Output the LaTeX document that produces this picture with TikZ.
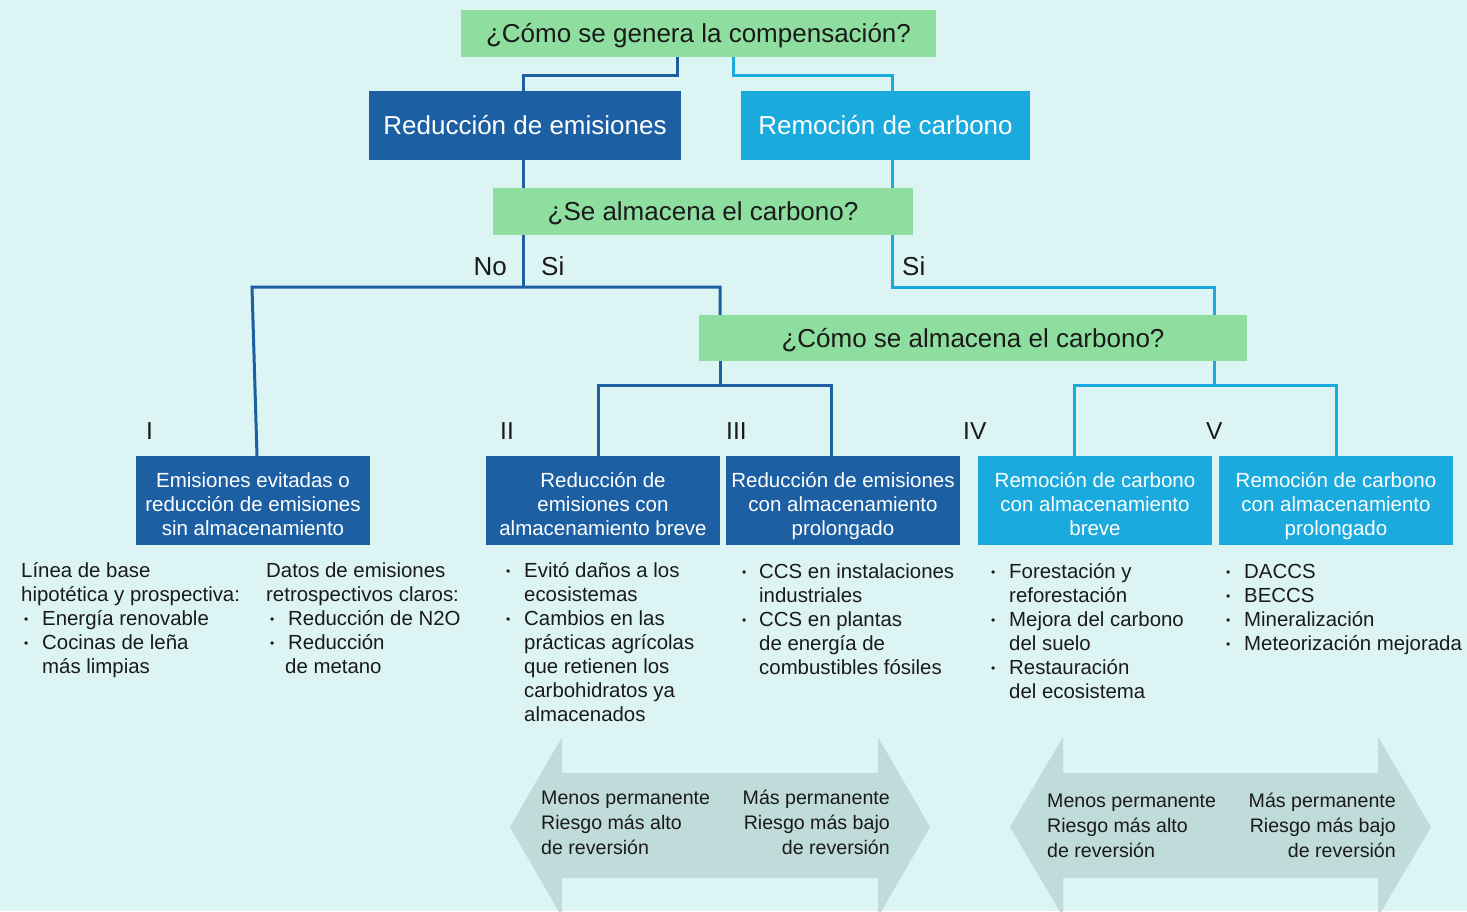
\documentclass[tikz,border=0pt]{standalone}
\usepackage{fontspec}
\setmainfont{Liberation Sans}
\usetikzlibrary{calc}
\definecolor{bgc}{HTML}{DDF4F4}
\definecolor{qgreen}{HTML}{8EDF9F}
\definecolor{dblue}{HTML}{1D5FA3}
\definecolor{lblue}{HTML}{1BAADD}
\definecolor{arrc}{HTML}{BFDCDA}
\definecolor{txt}{HTML}{1A1A1A}
\newcommand\lb[1]{\makebox[#1][l]{\raisebox{2pt}{\fontsize{12}{12}\selectfont •}}}
\begin{document}
\begin{tikzpicture}[x=1pt,y=-1pt,
  qbox/.style={fill=qgreen, inner sep=0, text=txt, font=\fontsize{26}{30}\selectfont, text height=18.7pt, text depth=0pt},
  bigbox/.style={inner sep=0, text=white, font=\fontsize{26}{30}\selectfont, text height=18.7pt, text depth=0pt, minimum height=69pt},
  catbox/.style={inner sep=0, text=white, align=center, font=\fontsize{20.5}{24}\selectfont, minimum width=234pt, minimum height=89pt, text height=70pt, text depth=0pt},
  dk/.style={draw=dblue, line width=3pt},
  lt/.style={draw=lblue, line width=3pt},
  lst/.style={inner sep=0, anchor=base west, align=left, text=txt, font=\fontsize{20.4}{24}\selectfont},
  rom/.style={inner sep=0, anchor=base west, text=txt, font=\fontsize{24.5}{28}\selectfont},
  lab/.style={inner sep=0, text=txt, font=\fontsize{26}{30}\selectfont},
  atxt/.style={inner sep=0, text=txt, font=\fontsize{19.6}{25}\selectfont}
]
\useasboundingbox (0,0) rectangle (1467,911);
\clip (0,0) rectangle (1467,911);
\fill[bgc] (0,0) rectangle (1467,911);

% arrows
\fill[arrc] (510,827) -- (562,737) -- (562,773) -- (878,773) -- (878,737) -- (930,827)
  -- (878,917) -- (878,878) -- (562,878) -- (562,917) -- cycle;
\fill[arrc] (1010,827) -- (1063,737) -- (1063,773) -- (1378,773) -- (1378,737) -- (1431,827)
  -- (1378,917) -- (1378,878) -- (1063,878) -- (1063,917) -- cycle;

% main nodes
\node[qbox, minimum width=475pt, minimum height=47pt] (q1) at (698.5,33.5) {¿Cómo se genera la compensación?};
\node[bigbox, fill=dblue, minimum width=312pt] (red) at (525,125.5) {Reducción de emisiones};
\node[bigbox, fill=lblue, minimum width=289pt] (rem) at (885.5,125.5) {Remoción de carbono};
\node[qbox, minimum width=420pt, minimum height=47pt] (q2) at (703,211.5) {¿Se almacena el carbono?};
\node[qbox, minimum width=548pt, minimum height=46pt] (q3) at (973,338) {¿Cómo se almacena el carbono?};

\node[catbox, fill=dblue] (c1) at (253,500.5) {Emisiones evitadas o\\reducción de emisiones\\sin almacenamiento};
\node[catbox, fill=dblue] (c2) at (603,500.5) {Reducción de\\emisiones con\\almacenamiento breve};
\node[catbox, fill=dblue] (c3) at (843,500.5) {Reducción de emisiones\\con almacenamiento\\prolongado};
\node[catbox, fill=lblue] (c4) at (1095,500.5) {Remoción de carbono\\con almacenamiento\\breve};
\node[catbox, fill=lblue] (c5) at (1336,500.5) {Remoción de carbono\\con almacenamiento\\prolongado};

% junctions
\coordinate (jd) at (523,287);
\coordinate (jl) at (892,287);
\coordinate (jd2) at (720,385);
\coordinate (jl2) at (1214,385);

% connectors
\draw[dk] ([xshift=-21.5pt]q1.south) -- ++(0,18) -| ([xshift=-2pt]red.north);
\draw[lt] ([xshift=34.5pt]q1.south) -- ++(0,18) -| ([xshift=6.5pt]rem.north);
\draw[dk] (red.south -| jd) -- (q2.north -| jd);
\draw[dk] (q2.south -| jd) -- (jd);
\draw[dk] ([xshift=4pt]c1.north) -- ([xshift=-1pt]c1.north |- jd) -- (jd -| jd2) -- (q3.north -| jd2);
\draw[lt] (rem.south -| jl) -- (q2.north -| jl);
\draw[lt] (q2.south -| jl) -- (jl) -- (jl -| jl2) -- (q3.north -| jl2);
\draw[dk] (q3.south -| jd2) -- (jd2);
\draw[dk] ([xshift=-5pt]c2.north) |- ([xshift=-12pt]c3.north |- jd2) -- ([xshift=-12pt]c3.north);
\draw[lt] (q3.south -| jl2) -- (jl2);
\draw[lt] ([xshift=-21pt]c4.north) |- (c5.north |- jl2) -- (c5.north);

% labels
\node[lab, anchor=base east] (no) at (507,275) {No};
\node[lab, anchor=base west] (si1) at (541,275) {Si};
\node[lab, anchor=base west] (si2) at (902,275) {Si};
\node[rom] (r1) at (146,439) {I};
\node[rom] (r2) at (500,439) {II};
\node[rom] (r3) at (726,439) {III};
\node[rom] (r4) at (963,439) {IV};
\node[rom] (r5) at (1206,439) {V};

% lists (anchored at the baseline of their last line)
\node[lst] (l1) at (21,673) {Línea de base\\hipotética y prospectiva:\\\hspace*{3pt}\lb{18pt}Energía renovable\\\hspace*{3pt}\lb{18pt}Cocinas de leña\\\hspace*{21pt}más limpias};
\node[lst] (l2) at (266,673) {Datos de emisiones\\retrospectivos claros:\\\hspace*{4pt}\lb{18pt}Reducción de N2O\\\hspace*{4pt}\lb{18pt}Reducción\\\hspace*{19pt}de metano};
\node[lst] (l3) at (506,721) {\lb{18pt}Evitó daños a los\\\hspace*{18pt}ecosistemas\\\lb{18pt}Cambios en las\\\hspace*{18pt}prácticas agrícolas\\\hspace*{18pt}que retienen los\\\hspace*{18pt}carbohidratos ya\\\hspace*{18pt}almacenados};
\node[lst] (l4) at (742,674) {\lb{17pt}CCS en instalaciones\\\hspace*{17pt}industriales\\\lb{17pt}CCS en plantas\\\hspace*{17pt}de energía de\\\hspace*{17pt}combustibles fósiles};
\node[lst] (l5) at (991,698) {\lb{18pt}Forestación y\\\hspace*{18pt}reforestación\\\lb{18pt}Mejora del carbono\\\hspace*{18pt}del suelo\\\lb{18pt}Restauración\\\hspace*{18pt}del ecosistema};
\node[lst] (l6) at (1226,650) {\lb{18pt}DACCS\\\lb{18pt}BECCS\\\lb{18pt}Mineralización\\\lb{18pt}Meteorización mejorada};

% arrow texts
\node[atxt, anchor=base west, align=left] (a1l) at (541,854) {Menos permanente\\Riesgo más alto\\de reversión};
\node[atxt, anchor=base east, align=right] (a1r) at (890,854) {Más permanente\\Riesgo más bajo\\de reversión};
\node[atxt, anchor=base west, align=left] (a2l) at (1047,857) {Menos permanente\\Riesgo más alto\\de reversión};
\node[atxt, anchor=base east, align=right] (a2r) at (1396,857) {Más permanente\\Riesgo más bajo\\de reversión};
\end{tikzpicture}
\end{document}
